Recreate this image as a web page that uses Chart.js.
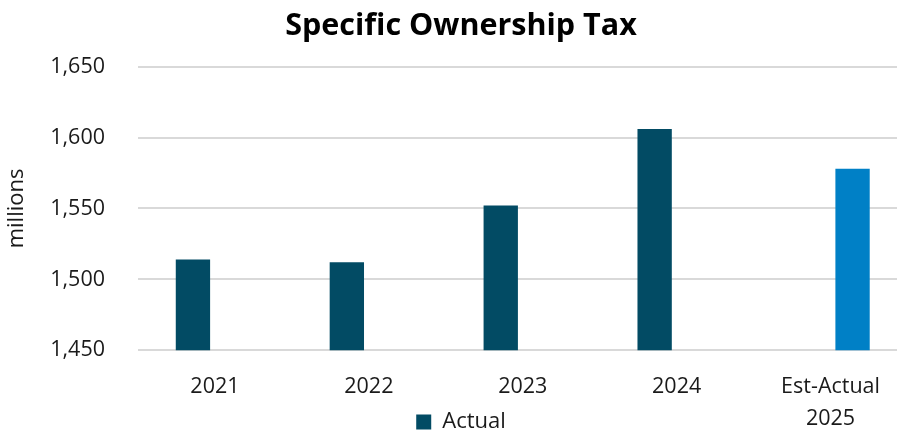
<!DOCTYPE html>
<html>
<head>
<meta charset="utf-8">
<script src="https://cdn.jsdelivr.net/npm/chart.js@4/dist/chart.umd.min.js"></script>
<style>
  html, body { margin: 0; padding: 0; background: #ffffff; overflow: hidden; }
  #wrap { width: 922px; height: 431px; position: relative; }
</style>
</head>
<body>
<div id="wrap"><canvas id="chart"></canvas></div>
<script>
// Category labels (multi-line for the estimate year)
const categories = ['2021', '2022', '2023', '2024', ['Est-Actual', '2025']];
// Specific Ownership Tax, millions of dollars
const actualValues = [1514, 1512, 1552, 1606, null];
const estimateValues = [null, null, null, null, 1578];
// Value axis ticks
const yMin = 1450;
const yMax = 1650;
const yStep = 50;

const FONT = '"Open Sans", "Noto Sans", sans-serif';

// The category labels share their vertical band with the legend,
// so let the x-axis labels draw down to the bottom of the canvas.
const unclipCategoryLabels = {
  id: 'unclipCategoryLabels',
  afterLayout(chart) {
    chart.scales.x.bottom = chart.height;
  }
};

new Chart(document.getElementById('chart'), {
  type: 'bar',
  data: {
    labels: categories,
    datasets: [
      {
        label: 'Actual',
        data: actualValues,
        backgroundColor: '#024b64',
        categoryPercentage: 0.572,
        barPercentage: 0.78
      },
      {
        label: 'Estimate',
        data: estimateValues,
        backgroundColor: '#0080c6',
        categoryPercentage: 0.572,
        barPercentage: 0.78
      }
    ]
  },
  plugins: [unclipCategoryLabels],
  options: {
    responsive: true,
    maintainAspectRatio: false,
    animation: false,
    layout: { padding: { left: 14.5, right: 14.5, top: 0, bottom: -12 } },
    plugins: {
      title: {
        display: true,
        text: 'Specific Ownership Tax',
        color: '#000000',
        font: { family: FONT, size: 30.5, weight: 'bold', lineHeight: 1.2 },
        padding: { top: 8.5, bottom: 21.5 }
      },
      legend: {
        position: 'bottom',
        labels: {
          filter: (item) => item.text === 'Actual',
          color: '#1a1a1a',
          font: { family: FONT, size: 22 },
          boxWidth: 15,
          boxHeight: 15,
          padding: 4
        }
      },
      tooltip: { enabled: false }
    },
    scales: {
      x: {
        afterFit: (scale) => { scale.height = 56.7; },
        grid: { display: false },
        border: { display: false },
        ticks: {
          color: '#1a1a1a',
          font: { family: FONT, size: 21.5, lineHeight: 1.48 },
          padding: 13,
          maxRotation: 0,
          autoSkip: false
        }
      },
      y: {
        min: yMin,
        max: yMax,
        afterFit: (scale) => { scale.width = 123.5; },
        grid: { color: '#d9d9d9', lineWidth: 2, drawTicks: false },
        border: { display: false },
        ticks: {
          stepSize: yStep,
          color: '#1a1a1a',
          font: { family: FONT, size: 21.5 },
          padding: 33,
          callback: (v) => v.toLocaleString('en-US')
        },
        title: {
          display: true,
          text: 'millions',
          color: '#1a1a1a',
          font: { family: FONT, size: 22 },
          padding: { top: -10.5, bottom: 0 }
        }
      }
    }
  }
});
</script>
</body>
</html>
